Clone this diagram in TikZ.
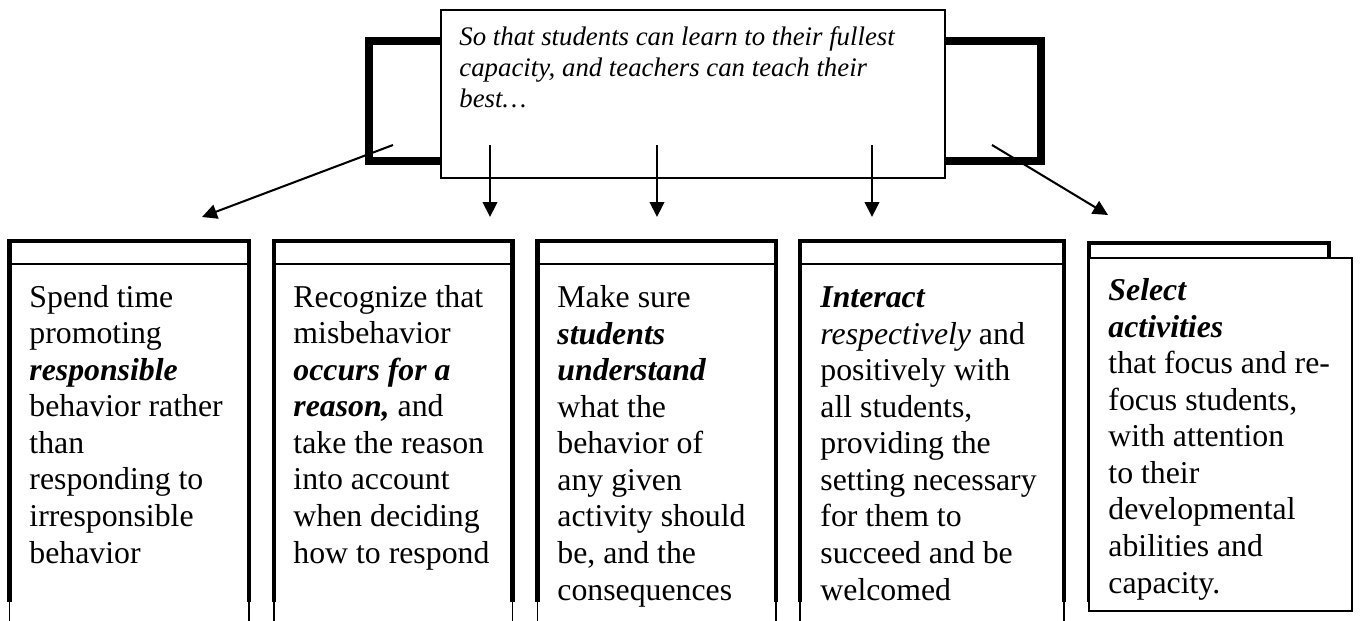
\documentclass[tikz,border=0pt]{standalone}
\usepackage{fontspec}
\setmainfont{Liberation Serif}
\usetikzlibrary{arrows.meta}
\begin{document}
\begin{tikzpicture}[x=0.4405pt,y=-0.4405pt,
  bracketline/.style={line width=3.5pt,line join=miter},
  topframe/.style={draw=black,fill=white,line width=0.9pt},
  boxside/.style={line width=1.8pt,line join=miter},
  headline/.style={line width=0.9pt},
  tailline/.style={line width=0.7pt},
  innerframe/.style={draw=black,fill=white,line width=0.8pt},
  conn/.style={line width=0.9pt,-{Triangle[length=6.6pt,width=6.4pt]}},
  bodytext/.style={anchor=base west,inner sep=0pt,align=left,font=\fontsize{14}{16.1}\selectfont},
  toptext/.style={anchor=base west,inner sep=0pt,align=left,font=\fontsize{11.8}{13.8}\selectfont\itshape}]
\useasboundingbox (0,0) rectangle (1360,621);
% bracket behind the top box
\draw[bracketline] (369,41) rectangle (1041,161);
% top box
\coordinate (topNW) at (441,10);
\coordinate (topSE) at (945,178);
\path[topframe] (topNW) rectangle (topSE);
% (base anchor of a multi-line node = baseline of its last line)
\node[toptext] (toptxt) at (459,108) {So that students can learn to their fullest\\capacity, and teachers can teach their\\best…};
% bottom boxes
\newcommand\colframe[2]{%
  \draw[boxside] (#1,602) -- (#1,241) -- (#2,241) -- (#2,602);
  \draw[headline] (#1,264) -- (#2,264);
  \draw[tailline] (#1,602) -- (#1,621);
  \draw[tailline] (#2,602) -- (#2,621);
}
\colframe{9.5}{249}
\colframe{274}{512.5}
\colframe{537.5}{776}
\colframe{800}{1064}
\draw[boxside] (1089,602) -- (1089,243) -- (1329,243) -- (1329,602);
\coordinate (inNW) at (1089,258);
\coordinate (inSE) at (1352,611);
\path[innerframe] (inNW) rectangle (inSE);
% texts
\node[bodytext] (t1) at (29,563) {Spend time\\promoting\\\textbf{\textit{responsible}}\\behavior rather\\than\\responding to\\irresponsible\\behavior};
\node[bodytext] (t2) at (293,563) {Recognize that\\misbehavior\\\textbf{\textit{occurs for a}}\\\textbf{\textit{reason,}} and\\take the reason\\into account\\when deciding\\how to respond};
\node[bodytext] (t3) at (557,600) {Make sure\\\textbf{\textit{students}}\\\textbf{\textit{understand}}\\what the\\behavior of\\any given\\activity should\\be, and the\\consequences};
\node[bodytext] (t4) at (820,600) {\textbf{\textit{Interact}}\\\textit{respectively} and\\positively with\\all students,\\providing the\\setting necessary\\for them to\\succeed and be\\welcomed};
\node[bodytext] (t5) at (1108,593) {\textbf{\textit{Select}}\\\textbf{\textit{activities}}\\that focus and re-\\focus students,\\with attention\\to their\\developmental\\abilities and\\capacity.};
% arrows
\coordinate (s1) at (393,145); \coordinate (e1) at (202,217);
\coordinate (s2) at (490,145); \coordinate (e2) at (490,217);
\coordinate (s3) at (657,145); \coordinate (e3) at (657,217);
\coordinate (s4) at (872,145); \coordinate (e4) at (872,217);
\coordinate (s5) at (992,145); \coordinate (e5) at (1108,215);
\draw[conn] (s1) -- (e1);
\draw[conn] (s2) -- (e2);
\draw[conn] (s3) -- (e3);
\draw[conn] (s4) -- (e4);
\draw[conn] (s5) -- (e5);
\end{tikzpicture}
\end{document}
